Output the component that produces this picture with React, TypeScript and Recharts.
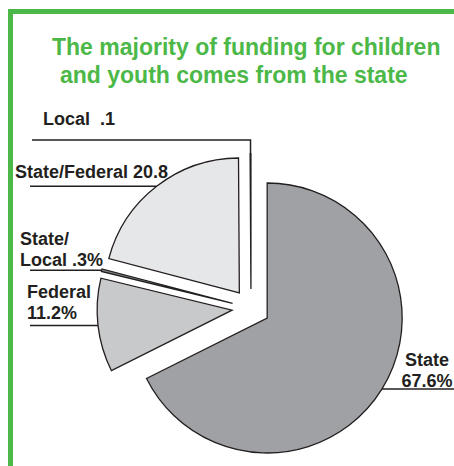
import { PieChart, Pie, Sector, Cell } from "recharts";

// funding sources, clockwise from 12 o'clock
const categories = ["State", "Federal", "State/Local", "State/Federal", "Local"];
const shares = [67.6, 11.2, 0.3, 20.8, 0.1];
const labelText = [
  ["State", "67.6%"],
  ["Federal", "11.2%"],
  ["State/", "Local .3%"],
  ["State/Federal 20.8"],
  ["Local  .1"],
];
const sliceColors = ["#a0a1a4", "#c8c9cb", "#808285", "#e6e7e8", "#231f20"];

const data = categories.map((name, i) => ({ name, value: shares[i] }));

const GREEN = "#4cb848";
const INK = "#231f20";
const FONT = "'Liberation Sans', Arial, Helvetica, sans-serif";
const EXPLODE = 19;
const RAD = Math.PI / 180;

// where each callout sits (annotation only)
const labelLayout = [
  { x: 427, anchor: "middle", baselines: [366, 387], lineEnd: 454, elbowY: null },
  { x: 27, anchor: "start", baselines: [298, 319], lineEnd: 30, elbowY: null },
  { x: 20, anchor: "start", baselines: [245, 266], lineEnd: 30, elbowY: null },
  { x: 15, anchor: "start", baselines: [178], lineEnd: 30, elbowY: null },
  { x: 43, anchor: "start", baselines: [125], lineEnd: 32, elbowY: 140 },
];

function offset(midAngle: number) {
  return {
    dx: EXPLODE * Math.cos(-midAngle * RAD),
    dy: EXPLODE * Math.sin(-midAngle * RAD),
  };
}

const ExplodedSector = (props: any) => {
  const { dx, dy } = offset(props.midAngle);
  return <Sector {...props} cx={props.cx + dx} cy={props.cy + dy} />;
};

const renderLabel = (props: any) => {
  const { cx, cy, midAngle, outerRadius, index } = props;
  const { dx, dy } = offset(midAngle);
  const sx = cx + dx + outerRadius * Math.cos(-midAngle * RAD);
  const sy = cy + dy + outerRadius * Math.sin(-midAngle * RAD);
  const lay = labelLayout[index];
  const d =
    lay.elbowY != null
      ? `M${sx},${sy}V${lay.elbowY}H${lay.lineEnd}`
      : `M${sx},${sy}H${lay.lineEnd}`;
  return (
    <g key={`lbl-${index}`}>
      <path d={d} stroke={INK} strokeWidth={1.5} fill="none" />
      {labelText[index].map((t, j) => (
        <text
          key={j}
          x={lay.x}
          y={lay.baselines[j]}
          textAnchor={lay.anchor as any}
          fontFamily={FONT}
          fontWeight="bold"
          fontSize={18}
          fill={INK}
          style={{ whiteSpace: "pre" }}
        >
          {t}
        </text>
      ))}
    </g>
  );
};

export default function App() {
  return (
    <div style={{ position: "absolute", left: 0, top: 0, width: 454, height: 466, background: "#fff" }}>
      <svg width={454} height={466} style={{ position: "absolute", left: 0, top: 0 }}>
        <rect x={8} y={9} width={446} height={5} fill={GREEN} />
        <rect x={8} y={9} width={5} height={457} fill={GREEN} />
        <text x={52} y={55} fontFamily={FONT} fontWeight="bold" fontSize={23} fill={GREEN}>
          The majority of funding for children
        </text>
        <text x={60} y={83} fontFamily={FONT} fontWeight="bold" fontSize={23} fill={GREEN}>
          and youth comes from the state
        </text>
      </svg>
      <div style={{ position: "absolute", left: 0, top: 0 }}>
        <PieChart width={454} height={466} margin={{ top: 0, right: 0, bottom: 0, left: 0 }}>
          <Pie
            data={data}
            dataKey="value"
            nameKey="name"
            cx={251}
            cy={308}
            outerRadius={135}
            startAngle={90}
            endAngle={-270}
            stroke={INK}
            strokeWidth={1.3}
            shape={ExplodedSector}
            label={renderLabel}
            labelLine={false}
            isAnimationActive={false}
          >
            {data.map((d, i) => (
              <Cell key={d.name} fill={sliceColors[i]} />
            ))}
          </Pie>
        </PieChart>
      </div>
    </div>
  );
}
